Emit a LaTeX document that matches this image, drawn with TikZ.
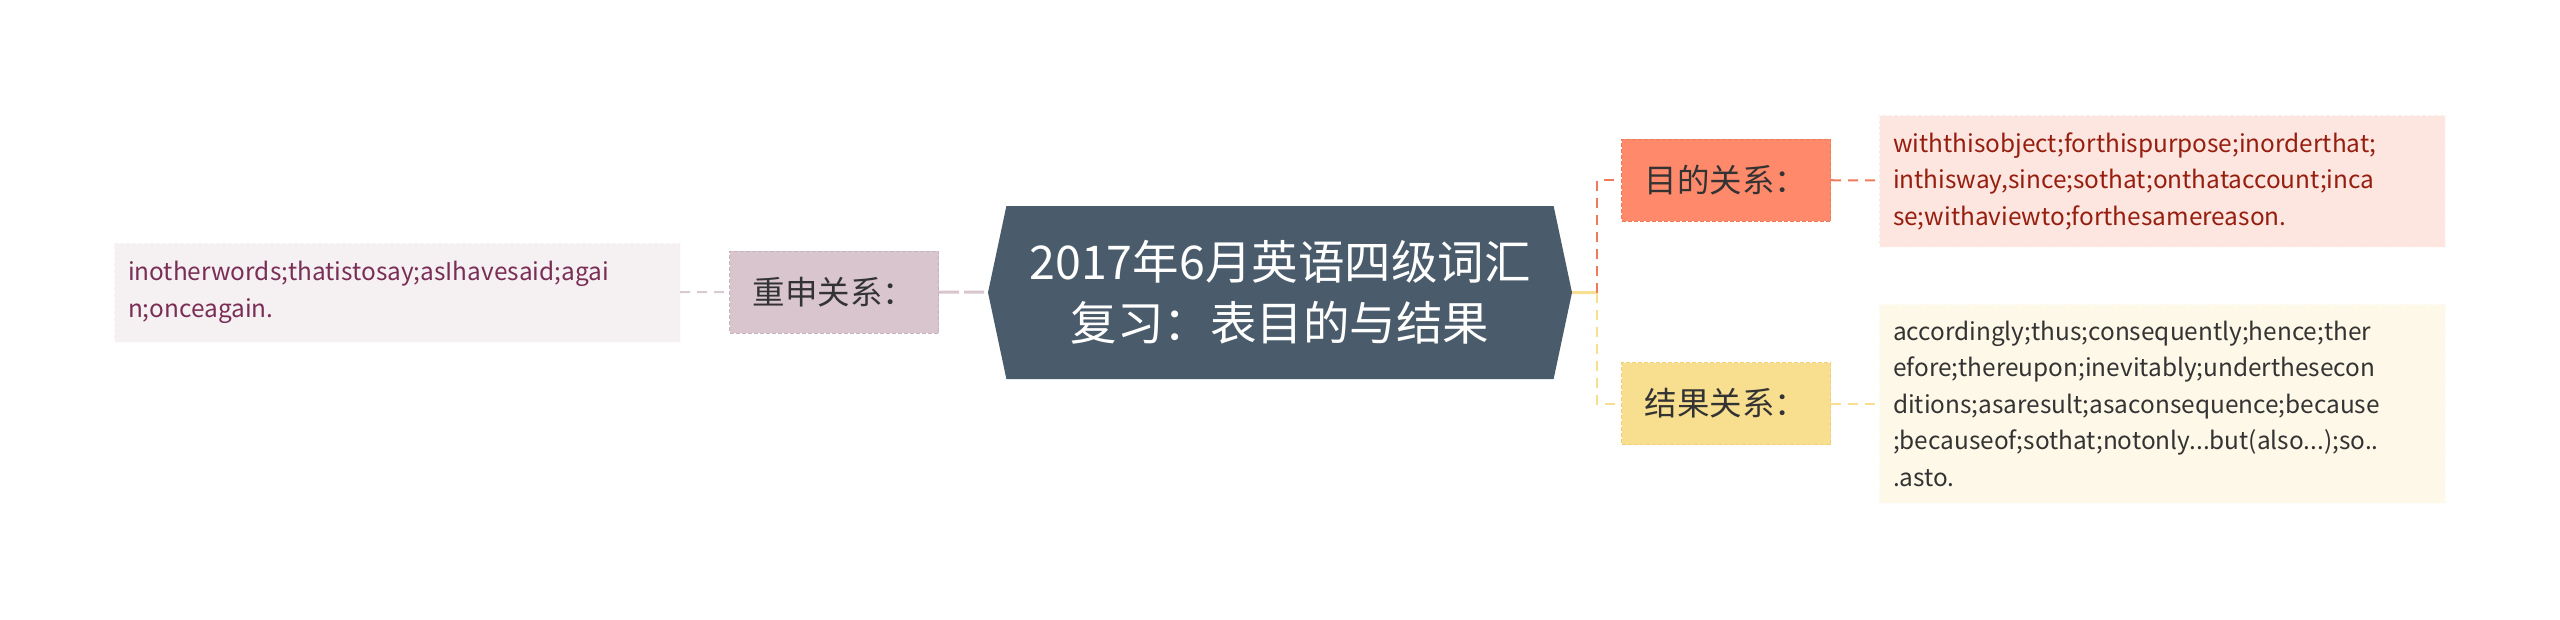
\documentclass[tikz,border=0pt]{standalone}
\usepackage{fontspec}
\setmainfont{Noto Sans CJK SC}
\usetikzlibrary{shapes.symbols}

\definecolor{rootFill}{RGB}{74,91,107}
\definecolor{repeatFill}{RGB}{216,197,206}
\definecolor{repeatLine}{RGB}{200,178,190}
\definecolor{repeatBack}{RGB}{245,240,242}
\definecolor{repeatInk}{RGB}{122,46,86}
\definecolor{aimFill}{RGB}{255,138,107}
\definecolor{aimLine}{RGB}{238,122,92}
\definecolor{aimBack}{RGB}{253,229,224}
\definecolor{aimInk}{RGB}{150,30,15}
\definecolor{resFill}{RGB}{248,223,143}
\definecolor{resLine}{RGB}{240,208,122}
\definecolor{resBack}{RGB}{254,248,232}
\definecolor{labelInk}{RGB}{51,51,51}

\begin{document}
\begin{tikzpicture}[x=1pt, y=-1pt,
    rootStyle/.style={signal, signal to=west and east, signal pointer angle=156, fill=rootFill, text=white,
        minimum width=584pt, minimum height=173pt, align=center, font=\fontsize{46.5}{61}\selectfont},
    labelStyle/.style={draw=#1Line, fill=#1Fill, dash pattern=on 4pt off 2pt, line width=1pt,
        minimum width=209pt, minimum height=82pt, text=labelInk, font=\fontsize{32.5}{38}\selectfont},
    textStyle/.style={draw=#1Back!90!black!10, fill=#1Back, dash pattern=on 4pt off 2pt, text=#1Ink,
        text width=538pt, inner xsep=14pt, align=left, font=\fontsize{24.4}{36.5}\selectfont},
    linkStyle/.style={#1, dash pattern=on 10pt off 7pt, line width=2pt}]
    \useasboundingbox (0,0) rectangle (2560,619);

    \node[rootStyle](root) at (1280, 292.5) {2017年6月英语四级词汇\\复习：表目的与结果};
    \node[labelStyle=repeat](11) at (834, 292) {重申关系：};
    \node[labelStyle=aim](12) at (1726, 180) {目的关系：};
    \node[labelStyle=res](13) at (1726, 403.5) {结果关系：};
    \node[textStyle=repeat, minimum height=99pt](21) at (397, 292.5)
        {inotherwords;thatistosay;asIhavesaid;agai\\n;onceagain.};
    \node[textStyle=aim, minimum height=132pt](22) at (2162, 181)
        {withthisobject;forthispurpose;inorderthat;\\inthisway,since;sothat;onthataccount;inca\\se;withaviewto;forthesamereason.};
    \node[textStyle=res, minimum height=199pt, text=labelInk](23) at (2162, 403.5)
        {accordingly;thus;consequently;hence;ther\\efore;thereupon;inevitably;underthesecon\\ditions;asaresult;asaconsequence;because\\;becauseof;sothat;notonly...but(also...);so..\\.asto.};
    \coordinate (fork) at (1597, 292.5);

    \draw[linkStyle=repeatLine!80!gray!60] (21) -- (11);
    \draw[linkStyle=repeatFill, line width=3pt, dash pattern=on 20pt off 5pt] (11) -- (root);
    \draw[resFill, line width=3pt] (root) -- (fork);
    \draw[linkStyle=aimLine] (fork) |- (12);
    \draw[linkStyle=resFill] (fork) |- (13);
    \draw[linkStyle=aimLine] (12) -- (22);
    \draw[linkStyle=resFill] (13) -- (23);
\end{tikzpicture}
\end{document}
